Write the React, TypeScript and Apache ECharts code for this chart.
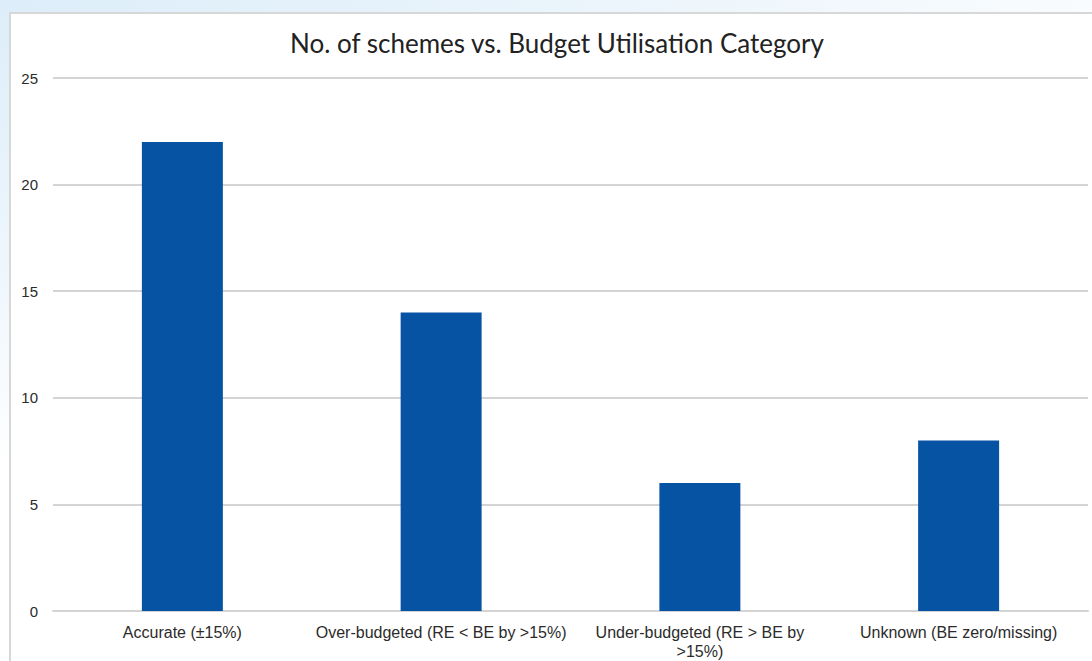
import React, { useEffect, useRef } from "react";
import * as echarts from "echarts";

const titleText = "No. of schemes vs. Budget Utilisation Category";
const categories = [
  "Accurate (±15%)",
  "Over-budgeted (RE < BE by >15%)",
  "Under-budgeted (RE > BE by\n>15%)",
  "Unknown (BE zero/missing)",
];
const schemeCounts = [22, 14, 6, 8];
const yTicks = { min: 0, max: 25, interval: 5 };

export default function App() {
  const ref = useRef<HTMLDivElement>(null);
  useEffect(() => {
    if (!ref.current) return;
    const chart = echarts.init(ref.current, null, { renderer: "svg" });
    chart.setOption({
      animation: false,
      backgroundColor: "transparent",
      title: {
        text: titleText,
        left: 552,
        textAlign: "center",
        top: 25,
        textStyle: {
          fontFamily: "Lato, 'Noto Sans', sans-serif",
          fontWeight: "normal",
          fontSize: 26,
          color: "#222222",
        },
      },
      grid: { left: 53, right: 4, top: 78, bottom: 50, containLabel: false },
      xAxis: {
        type: "category",
        data: categories,
        axisTick: { show: false },
        axisLine: { lineStyle: { color: "#d4d4d4", width: 2 } },
        axisLabel: {
          color: "#2b2b2b",
          fontFamily: "'Liberation Sans', Arial, sans-serif",
          fontSize: 16,
          lineHeight: 19,
          margin: 12,
          interval: 0,
        },
      },
      yAxis: {
        type: "value",
        min: yTicks.min,
        max: yTicks.max,
        interval: yTicks.interval,
        axisLine: { show: false },
        axisTick: { show: false },
        splitLine: { lineStyle: { color: "#d4d4d4", width: 2 } },
        axisLabel: {
          color: "#2b2b2b",
          fontFamily: "'Liberation Sans', Arial, sans-serif",
          fontSize: 15,
          margin: 15,
        },
      },
      series: [
        {
          type: "bar",
          data: schemeCounts,
          barWidth: "31.3%",
          itemStyle: { color: "#0753a3" },
        },
      ],
    });
    return () => chart.dispose();
  }, []);

  return (
    <div
      style={{
        position: "fixed",
        left: 0,
        top: 0,
        width: 1092,
        height: 661,
        overflow: "hidden",
        background:
          "linear-gradient(160deg, #dcedf9 0%, #eef6fc 25%, #ffffff 45%)",
      }}
    >
      <div
        style={{
          position: "absolute",
          left: 9,
          top: 12,
          width: 1100,
          height: 670,
          border: "2px solid #d6d8d8",
          background: "#ffffff",
          boxSizing: "border-box",
        }}
      />
      <div
        ref={ref}
        style={{ position: "absolute", left: 0, top: 0, width: 1092, height: 661 }}
      />
    </div>
  );
}
